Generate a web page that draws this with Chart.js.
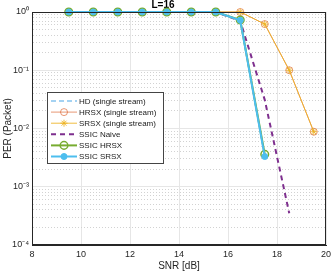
<!DOCTYPE html>
<html>
<head>
<meta charset="utf-8">
<script src="https://cdn.jsdelivr.net/npm/chart.js@4.4.1/dist/chart.umd.min.js"></script>
<style>
  body { margin: 0; background: #fff; }
  canvas { display: block; }
</style>
</head>
<body>
<canvas id="perChart" width="332" height="273"></canvas>
<script>
// values
const snr = [9.5, 10.5, 11.5, 12.5, 13.5, 14.5, 15.5, 16.5, 17.5, 18.5, 19.5];
const perHD = [1, 1, 1, 1, 1, 1, 1, 0.72, 0.0033];
const perHRSX = [1, 1, 1, 1, 1, 1, 1, 1, 0.62, 0.1, 0.0088];
const perSRSX = [1, 1, 1, 1, 1, 1, 1, 1, 0.62, 0.1, 0.0088];
const perNaive = [1, 1, 1, 1, 1, 1, 1, 0.7, 0.031, 0.00035];
const perSsicHRSX = [1, 1, 1, 1, 1, 1, 1, 0.73, 0.0036];
const perSsicSRSX = [1, 1, 1, 1, 1, 1, 1, 0.72, 0.0033];

const seriesNames = ['HD (single stream)', 'HRSX (single stream)', 'SRSX (single stream)',
    'SSIC Naive', 'SSIC HRSX', 'SSIC SRSX'];
const xTicks = [8, 10, 12, 14, 16, 18, 20];
const yDecades = [1e-4, 1e-3, 1e-2, 1e-1, 1];

const FONT = '"Liberation Sans", Arial, Helvetica, sans-serif';
const SUP = { '0': '\u2070', '1': '\u00b9', '2': '\u00b2', '3': '\u00b3', '4': '\u2074', '-': '\u207b' };

function toPoints(values) {
    return values.map((v, i) => ({ x: snr[i], y: v }));
}

function isDecade(v) {
    const e = Math.log10(v);
    return Math.abs(e - Math.round(e)) < 1e-6;
}

function drawMarker(ctx, style, x, y, r, color, fill, width) {
    ctx.save();
    ctx.strokeStyle = color;
    ctx.lineWidth = width;
    ctx.setLineDash([]);
    if (style === 'circle') {
        ctx.beginPath();
        ctx.arc(x, y, r, 0, Math.PI * 2);
        if (fill) { ctx.fillStyle = fill; ctx.fill(); }
        ctx.stroke();
    } else if (style === 'star') {
        ctx.beginPath();
        ctx.moveTo(x - r, y); ctx.lineTo(x + r, y);
        ctx.moveTo(x, y - r); ctx.lineTo(x, y + r);
        const d = r * 0.707;
        ctx.moveTo(x - d, y - d); ctx.lineTo(x + d, y + d);
        ctx.moveTo(x - d, y + d); ctx.lineTo(x + d, y - d);
        ctx.stroke();
    }
    ctx.restore();
}

const boxPlugin = {
    id: 'axesBox',
    afterDraw(chart) {
        const { ctx, chartArea: a } = chart;
        ctx.save();
        ctx.strokeStyle = '#262626';
        ctx.lineWidth = 1;
        ctx.strokeRect(Math.round(a.left) + 0.5, Math.round(a.top) + 0.5,
            Math.round(a.right - a.left) - 1, Math.round(a.bottom - a.top) - 1);
        ctx.restore();
    }
};

const legendPlugin = {
    id: 'insideLegend',
    afterDraw(chart) {
        const { ctx, chartArea: a } = chart;
        const bx = a.left + 15, by = a.top + 80, bw = 116, bh = 71;
        ctx.save();
        ctx.fillStyle = '#fff';
        ctx.fillRect(bx, by, bw, bh);
        ctx.strokeStyle = '#444';
        ctx.lineWidth = 1;
        ctx.strokeRect(Math.round(bx) + 0.5, Math.round(by) + 0.5, bw, bh);

        chart.data.datasets.forEach((ds, i) => {
            const y = by + 9 + i * 11.1;
            ctx.beginPath();
            ctx.strokeStyle = ds.borderColor;
            ctx.lineWidth = ds.borderWidth;
            ctx.setLineDash(ds.borderDash || []);
            ctx.moveTo(bx + 4, y);
            ctx.lineTo(bx + 30, y);
            ctx.stroke();
            if (ds.pointRadius > 0) {
                drawMarker(ctx, ds.pointStyle, bx + 17, y, ds.pointRadius,
                    ds.pointBorderColor, ds.pointBackgroundColor, ds.pointBorderWidth);
            }
            ctx.fillStyle = '#1a1a1a';
            ctx.font = '8px ' + FONT;
            ctx.textBaseline = 'middle';
            ctx.textAlign = 'left';
            ctx.fillText(ds.label, bx + 32, y + 0.5);
        });
        ctx.restore();
    }
};

const ctx = document.getElementById('perChart').getContext('2d');
const perChart = new Chart(ctx, {
    type: 'line',
    data: {
        datasets: [
            {
                label: seriesNames[0], data: toPoints(perHD), order: 6,
                borderColor: '#86c4ee', borderWidth: 1.5, borderDash: [5, 3],
                pointRadius: 0, pointStyle: 'circle', clip: false
            },
            {
                label: seriesNames[1], data: toPoints(perHRSX), order: 5,
                borderColor: 'rgba(217,83,25,0.6)', borderWidth: 1,
                pointStyle: 'circle', pointRadius: 3.5, pointBorderWidth: 1,
                pointBorderColor: 'rgba(217,83,25,0.6)', pointBackgroundColor: 'rgba(0,0,0,0)', clip: false
            },
            {
                label: seriesNames[2], data: toPoints(perSRSX), order: 4,
                borderColor: 'rgba(237,177,32,0.85)', borderWidth: 1,
                pointStyle: 'star', pointRadius: 3.5, pointBorderWidth: 1,
                pointBorderColor: 'rgba(237,177,32,0.85)', pointBackgroundColor: 'rgba(237,177,32,0.85)', clip: false
            },
            {
                label: seriesNames[3], data: toPoints(perNaive), order: 3,
                borderColor: '#7e2f8e', borderWidth: 2, borderDash: [5, 4],
                pointRadius: 0, pointStyle: 'circle', clip: false
            },
            {
                label: seriesNames[4], data: toPoints(perSsicHRSX), order: 2,
                borderColor: '#77ac30', borderWidth: 2,
                pointStyle: 'circle', pointRadius: 3.8, pointBorderWidth: 1.5,
                pointBorderColor: '#77ac30', pointBackgroundColor: 'rgba(0,0,0,0)', clip: false
            },
            {
                label: seriesNames[5], data: toPoints(perSsicSRSX), order: 1,
                borderColor: '#4dbeee', borderWidth: 2,
                pointStyle: 'circle', pointRadius: 3, pointBorderWidth: 1,
                pointBorderColor: '#4dbeee', pointBackgroundColor: '#4dbeee', clip: false
            }
        ]
    },
    options: {
        responsive: false,
        animation: false,
        layout: { padding: { left: 0, right: 6, top: 0, bottom: 0 } },
        scales: {
            x: {
                type: 'linear',
                min: 8,
                max: 20,
                afterBuildTicks: axis => { axis.ticks = xTicks.map(v => ({ value: v })); },
                afterFit: axis => {
                    axis.height = 28;
                    axis.paddingLeft = 0;
                    axis.paddingRight = 0;
                },
                grid: { color: '#e6e6e6', drawTicks: false },
                border: { color: '#262626' },
                ticks: { color: '#262626', padding: 4, font: { family: FONT, size: 9 } },
                title: {
                    display: true, text: 'SNR [dB]', color: '#262626',
                    font: { family: FONT, size: 10 }, padding: { top: 0, bottom: 1 }
                }
            },
            y: {
                type: 'logarithmic',
                min: 1e-4,
                max: 1,
                afterBuildTicks: axis => {
                    const ticks = [];
                    yDecades.forEach((d, i) => {
                        ticks.push({ value: d });
                        if (i < yDecades.length - 1) {
                            for (let m = 2; m <= 9; m++) ticks.push({ value: d * m });
                        }
                    });
                    axis.ticks = ticks;
                },
                afterFit: axis => {
                    axis.width = 32;
                    axis.paddingTop = 0;
                    axis.paddingBottom = 0;
                },
                grid: {
                    drawTicks: false,
                    color: c => (c.tick && isDecade(c.tick.value)) ? '#e6e6e6' : '#d2d2d2'
                },
                border: {
                    color: '#262626',
                    dash: c => (c.tick && !isDecade(c.tick.value)) ? [1, 2] : []
                },
                ticks: {
                    autoSkip: false,
                    color: '#262626',
                    padding: 3,
                    font: { family: FONT, size: 9 },
                    callback: v => {
                        if (!isDecade(v)) return '';
                        const e = String(Math.round(Math.log10(v)));
                        return '10' + e.split('').map(ch => SUP[ch]).join('');
                    }
                },
                title: {
                    display: true, text: 'PER (Packet)', color: '#262626',
                    font: { family: FONT, size: 10 }, padding: { top: 2, bottom: 0 }
                }
            }
        },
        plugins: {
            legend: { display: false },
            tooltip: { enabled: false },
            title: {
                display: true,
                text: 'L=16',
                color: '#000',
                font: { family: FONT, size: 10, weight: 'bold', lineHeight: 1 },
                padding: { top: 0, bottom: 2 }
            }
        }
    },
    plugins: [boxPlugin, legendPlugin]
});
</script>
</body>
</html>
